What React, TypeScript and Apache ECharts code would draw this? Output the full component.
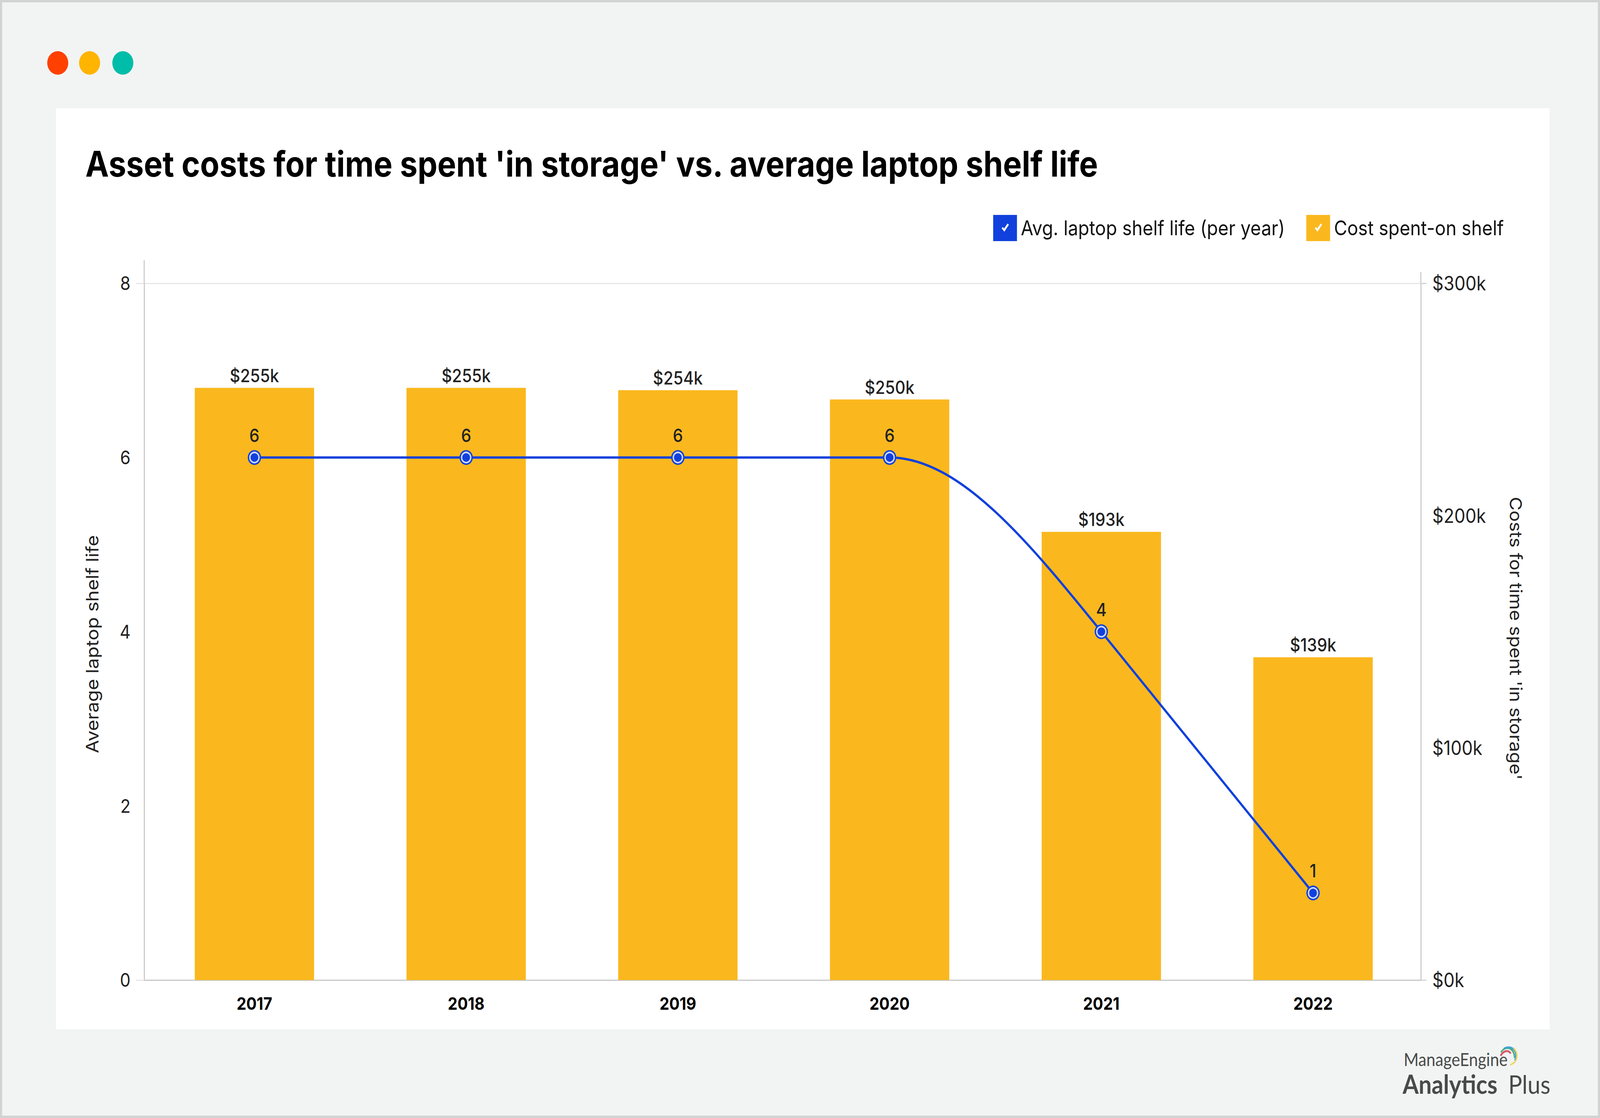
import React, { useEffect, useRef } from "react";
import * as echarts from "echarts";

const years = [2017, 2018, 2019, 2020, 2021, 2022];
const shelfLife = [6, 6, 6, 6, 4, 1];
const costK = [255, 255, 254, 250, 193, 139];
const lifeName = "Avg. laptop shelf life (per year)";
const costName = "Cost spent-on shelf";
const FONT = "Inter";
const BLUE = "#1140DC";
const GOLD = "#FAB81E";
const CHECK = "path://M0 0H68V67H0Z M24 34L32 43L45 25L41 22L31 35L28 31Z";
const DESIGN_W = 4572;
const DESIGN_H = 2861;

function tangents(p: number[][]) {
  const slopes = p.slice(1).map((q, i) => (q[1] - p[i][1]) / (q[0] - p[i][0]));
  return p.map((_, i) => {
    if (i === 0) return slopes[0];
    if (i === p.length - 1) return slopes[i - 1];
    const a = slopes[i - 1];
    const b = slopes[i];
    if (a === 0 || b === 0) return 0;
    return Math.abs(a) > Math.abs(b) ? a : b;
  });
}

export default function App() {
  const ref = useRef<HTMLDivElement>(null);
  const sx = window.innerWidth / DESIGN_W;
  const sy = window.innerHeight / DESIGN_H;
  useEffect(() => {
    document.documentElement.style.overflow = "hidden";
    const chart = echarts.init(ref.current!, null, { renderer: "svg" });
    const axisLine = { show: true, lineStyle: { color: "#C8C8C8", width: 3 } };
    const points = years.map((y, i) => [y, shelfLife[i]]);
    chart.setOption({
      animation: false,
      backgroundColor: "#F2F4F3",
      textStyle: { fontFamily: FONT },
      title: {
        text: "Asset costs for time spent 'in storage' vs. average laptop shelf life",
        left: 239,
        top: 369,
        textStyle: { fontFamily: FONT, fontWeight: 700, fontSize: 90, color: "#000" },
      },
      legend: {
        left: 2833,
        top: 545,
        itemWidth: 68,
        itemHeight: 67,
        itemGap: 61,
        selectedMode: false,
        textStyle: { fontFamily: FONT, fontSize: 52, color: "#111", padding: [0, 0, 0, 6] },
        data: [
          { name: lifeName, icon: CHECK, itemStyle: { color: BLUE } },
          { name: costName, icon: CHECK, itemStyle: { color: GOLD } },
        ],
      },
      grid: { left: 412, top: 725, width: 3648, height: 1783, containLabel: false },
      xAxis: {
        type: "value",
        min: 2016.4793,
        max: 2022.509,
        axisLine,
        axisTick: { show: false },
        splitLine: { show: false },
        axisLabel: {
          customValues: years,
          formatter: (v: number) => String(v),
          margin: 38,
          fontFamily: FONT,
          fontWeight: 700,
          fontSize: 44,
          color: "#000",
        },
      },
      yAxis: [
        {
          type: "value",
          position: "left",
          min: 0,
          max: 8,
          interval: 2,
          axisLine,
          axisTick: {
            show: true,
            length: 23,
            customValues: [0, 8],
            lineStyle: { color: "#E6E6E6", width: 3 },
          },
          splitLine: { show: true, lineStyle: { color: "#E6E6E6", width: 3 } },
          axisLabel: { margin: 39, fontFamily: FONT, fontSize: 48, color: "#222" },
          name: "Average laptop shelf life",
          nameLocation: "middle",
          nameGap: 124,
          nameRotate: 90,
          nameTextStyle: { fontFamily: FONT, fontSize: 49, color: "#222", padding: [0, 64, 0, 0] },
        },
        {
          type: "value",
          position: "right",
          min: 0,
          max: 300,
          interval: 100,
          axisLine,
          axisTick: {
            show: true,
            length: 16,
            customValues: [0, 300],
            lineStyle: { color: "#D4D4D4", width: 3 },
          },
          splitLine: { show: false },
          axisLabel: {
            margin: 33,
            formatter: (v: number) => `$${v}k`,
            fontFamily: FONT,
            fontSize: 50,
            color: "#222",
          },
          name: "Costs for time spent 'in storage'",
          nameLocation: "middle",
          nameGap: 247,
          nameRotate: -90,
          nameTextStyle: { fontFamily: FONT, fontSize: 48, color: "#222", padding: [0, 0, 0, 34] },
        },
      ],
      series: [
        {
          name: costName,
          type: "bar",
          yAxisIndex: 1,
          barWidth: 341,
          itemStyle: { color: GOLD },
          data: years.map((y, i) => [y, costK[i]]),
          label: {
            show: true,
            position: "top",
            distance: 8,
            formatter: (p: any) => `$${p.value[1]}k`,
            fontFamily: FONT,
            fontWeight: 500,
            fontSize: 46,
            color: "#222",
          },
        },
        {
          name: "life curve",
          type: "custom",
          coordinateSystem: "cartesian2d",
          yAxisIndex: 0,
          z: 3,
          silent: true,
          encode: { x: 0, y: 1 },
          data: points,
          renderItem: (params: any, api: any) => {
            const i = params.dataIndex;
            if (i >= points.length - 1) return null;
            const px = points.map((q) => api.coord(q));
            const m = tangents(px);
            const a = px[i];
            const b = px[i + 1];
            const h = (b[0] - a[0]) / 3;
            return {
              type: "bezierCurve",
              shape: {
                x1: a[0],
                y1: a[1],
                x2: b[0],
                y2: b[1],
                cpx1: a[0] + h,
                cpy1: a[1] + m[i] * h,
                cpx2: b[0] - h,
                cpy2: b[1] - m[i + 1] * h,
              },
              style: { stroke: BLUE, lineWidth: 6, fill: "none" },
            };
          },
        },
        {
          name: lifeName,
          type: "line",
          yAxisIndex: 0,
          symbol: "circle",
          symbolSize: 38,
          z: 4,
          lineStyle: { width: 0, opacity: 0 },
          itemStyle: { color: BLUE },
          data: points,
          label: {
            show: true,
            position: "top",
            distance: 14,
            formatter: (p: any) => String(p.value[1]),
            fontFamily: FONT,
            fontWeight: 500,
            fontSize: 46,
            color: "#222",
          },
        },
        {
          name: "marker core",
          type: "scatter",
          yAxisIndex: 0,
          symbol: "circle",
          symbolSize: 26,
          z: 5,
          silent: true,
          itemStyle: { color: BLUE, borderColor: "#FFFFFF", borderWidth: 4 },
          data: points,
        },
      ],
      graphic: [
        { type: "rect", z: -10, shape: { x: 3, y: 3, width: 4566, height: 2855 }, style: { fill: "#F2F4F3", stroke: "#D1D3D2", lineWidth: 6 } },
        { type: "rect", z: -9, shape: { x: 160, y: 277, width: 4268, height: 2357 }, style: { fill: "#FFFFFF" } },
        { type: "circle", shape: { cx: 165, cy: 161, r: 30 }, style: { fill: "#FF4000" } },
        { type: "circle", shape: { cx: 256, cy: 161, r: 30 }, style: { fill: "#FFB400" } },
        { type: "circle", shape: { cx: 351, cy: 161, r: 30 }, style: { fill: "#00BDA9" } },
        { type: "line", shape: { x1: 412, y1: 666, x2: 412, y2: 725 }, style: { stroke: "#C8C8C8", lineWidth: 3 } },
        { type: "line", shape: { x1: 4060, y1: 696, x2: 4060, y2: 725 }, style: { stroke: "#C8C8C8", lineWidth: 3 } },
        { type: "line", shape: { x1: 4060, y1: 725, x2: 4076, y2: 725 }, style: { stroke: "#E6E6E6", lineWidth: 3 } },
        { type: "text", x: 4011, y: 2710, style: { text: "ManageEngine", fontFamily: "Lato", fontSize: 46, fill: "#484A4A", verticalAlign: "middle" } },
        { type: "text", x: 4008, y: 2773, style: { text: "Analytics", fontFamily: "Lato", fontWeight: 700, fontSize: 66, fill: "#484A4A", verticalAlign: "middle" } },
        { type: "text", x: 4310, y: 2773, style: { text: "Plus", fontFamily: "Lato", fontSize: 66, fill: "#484A4A", verticalAlign: "middle" } },
        { type: "bezierCurve", shape: { x1: 4288, y1: 2702, x2: 4317, y2: 2696, cpx1: 4296, cpy1: 2688, cpx2: 4310, cpy2: 2686 }, style: { stroke: "#D9596B", lineWidth: 5, fill: "none" } },
        { type: "bezierCurve", shape: { x1: 4289, y1: 2693, x2: 4328, y2: 2707, cpx1: 4300, cpy1: 2676, cpx2: 4326, cpy2: 2678 }, style: { stroke: "#4DAE7A", lineWidth: 4, fill: "none" } },
        { type: "bezierCurve", shape: { x1: 4297, y1: 2684, x2: 4329, y2: 2714, cpx1: 4318, cpy1: 2672, cpx2: 4340, cpy2: 2690 }, style: { stroke: "#3FA5D0", lineWidth: 5, fill: "none" } },
        { type: "bezierCurve", shape: { x1: 4325, y1: 2682, x2: 4315, y2: 2725, cpx1: 4340, cpy1: 2695, cpx2: 4338, cpy2: 2718 }, style: { stroke: "#F0D45A", lineWidth: 4, fill: "none" } },
      ],
    });
    return () => chart.dispose();
  }, []);
  return (
    <div
      ref={ref}
      style={{
        position: "absolute",
        left: 0,
        top: 0,
        width: DESIGN_W,
        height: DESIGN_H,
        transformOrigin: "0 0",
        transform: `scale(${sx}, ${sy})`,
      }}
    />
  );
}
